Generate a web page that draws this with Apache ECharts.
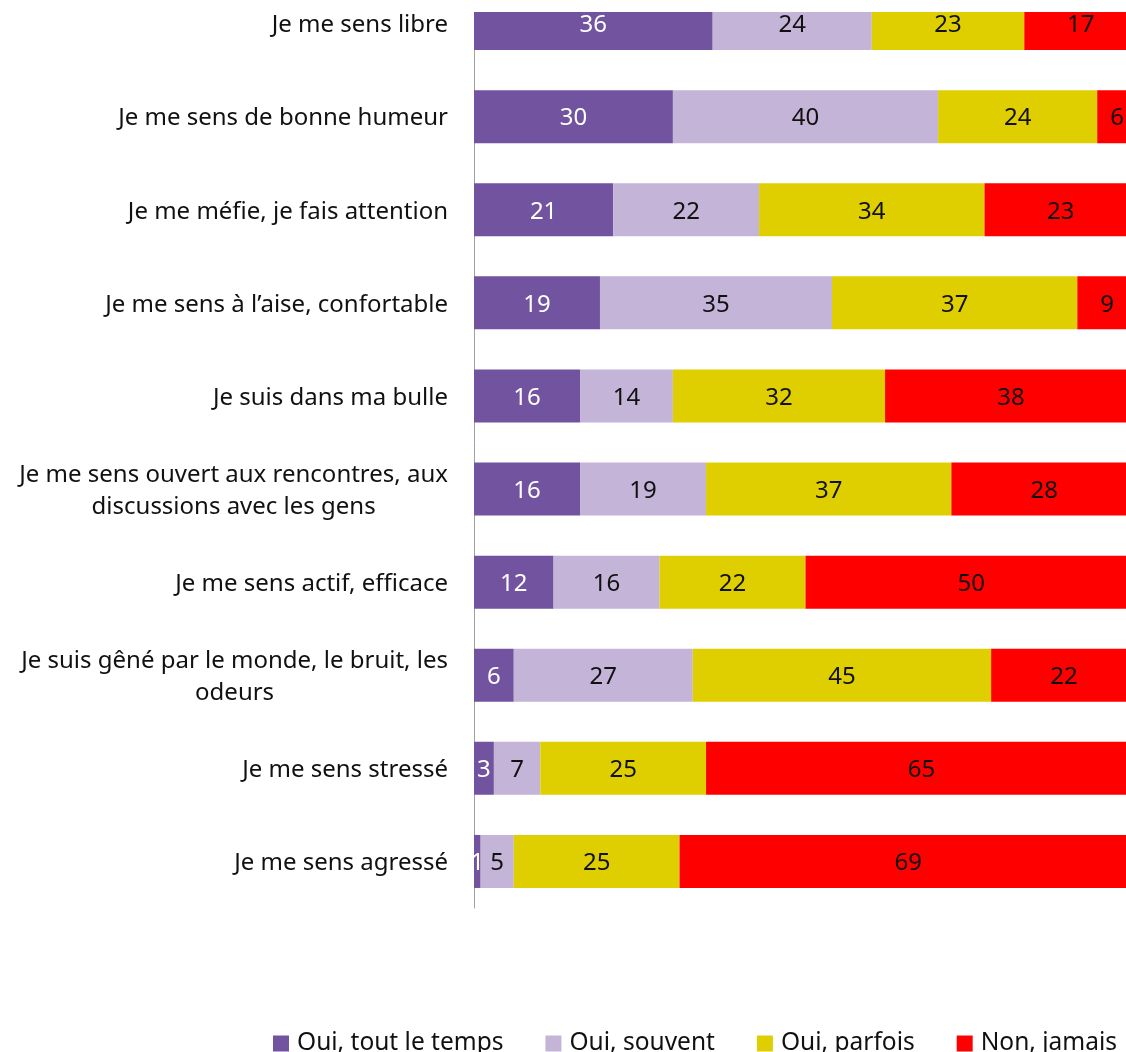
<!DOCTYPE html>
<html>
<head>
<meta charset="utf-8">
<script src="https://cdn.jsdelivr.net/npm/echarts@6/dist/echarts.min.js"></script>
<style>
    html, body { margin: 0; padding: 0; background: #fff; }
    #wrap { position: relative; width: 1126px; height: 1052px; overflow: hidden; }
    /* the source picture is cropped on top and right, so the chart is drawn larger and shifted */
    #chart { position: absolute; left: 0; top: -23px; width: 1137px; height: 1075px; }
</style>
</head>
<body>
<div id="wrap"><div id="chart"></div></div>
<script>
'use strict';

var categories = [
    "Je me sens libre",
    "Je me sens de bonne humeur",
    "Je me méfie, je fais attention",
    "Je me sens à l’aise, confortable",
    "Je suis dans ma bulle",
    "Je me sens ouvert aux rencontres, aux\ndiscussions avec les gens",
    "Je me sens actif, efficace",
    "Je suis gêné par le monde, le bruit, les\nodeurs",
    "Je me sens stressé",
    "Je me sens agressé"
];
var seriesNames = ["Oui, tout le temps", "Oui, souvent", "Oui, parfois", "Non, jamais"];
var toutLeTemps = [36, 30, 21, 19, 16, 16, 12, 6, 3, 1];
var souvent = [24, 40, 22, 35, 14, 19, 16, 27, 7, 5];
var parfois = [23, 24, 34, 37, 32, 37, 22, 45, 25, 25];
var jamais = [17, 6, 23, 9, 38, 28, 50, 22, 65, 69];

var colors = ['#7153a0', '#c3b4d8', '#e0cf00', '#ff0000'];
var labelColors = ['#ffffff', '#111111', '#111111', '#111111'];
var font = '"Noto Sans", sans-serif';

var chart = echarts.init(document.getElementById('chart'));

function makeSeries(i, data) {
    return {
        name: seriesNames[i],
        type: 'bar',
        stack: 'total',
        barWidth: 53,
        data: data,
        itemStyle: { color: colors[i] },
        label: {
            show: true,
            position: 'inside',
            offset: [0, 2],
            color: labelColors[i],
            fontFamily: font,
            fontSize: 24
        },
        emphasis: { disabled: true }
    };
}

var option = {
    animation: false,
    textStyle: { fontFamily: font },
    grid: {
        left: 474,
        right: 0,
        top: 0,
        bottom: 144,
        containLabel: false
    },
    xAxis: {
        type: 'value',
        min: 0,
        max: 100,
        show: false
    },
    yAxis: {
        type: 'category',
        inverse: true,
        data: categories,
        axisTick: { show: false },
        axisLine: { lineStyle: { color: '#a0a0a0', width: 1 } },
        axisLabel: {
            margin: 26,
            color: '#111111',
            fontFamily: font,
            fontSize: 24,
            lineHeight: 32,
            formatter: function (value) {
                // centre the lines of multi-line labels
                return value.split('\n').map(function (s) {
                    return '{c|' + s + '}';
                }).join('\n');
            },
            rich: {
                c: {
                    align: 'center',
                    fontFamily: font,
                    fontSize: 24,
                    lineHeight: 32,
                    padding: [4, 0, 0, 0],
                    color: '#111111'
                }
            }
        }
    },
    legend: {
        data: seriesNames,
        left: 273,
        top: 1054,
        padding: 0,
        width: 864,
        itemWidth: 16,
        itemHeight: 16,
        itemGap: 42,
        icon: 'rect',
        textStyle: {
            fontFamily: font,
            fontSize: 24.5,
            color: '#111111',
            padding: [0, 0, 0, 3]
        }
    },
    graphic: [{
        type: 'rect',
        z: 100,
        shape: { x: 0, y: 0, width: 1137, height: 35 },
        style: { fill: '#ffffff' }
    }],
    series: [
        makeSeries(0, toutLeTemps),
        makeSeries(1, souvent),
        makeSeries(2, parfois),
        makeSeries(3, jamais)
    ]
};

chart.setOption(option);
</script>
</body>
</html>
